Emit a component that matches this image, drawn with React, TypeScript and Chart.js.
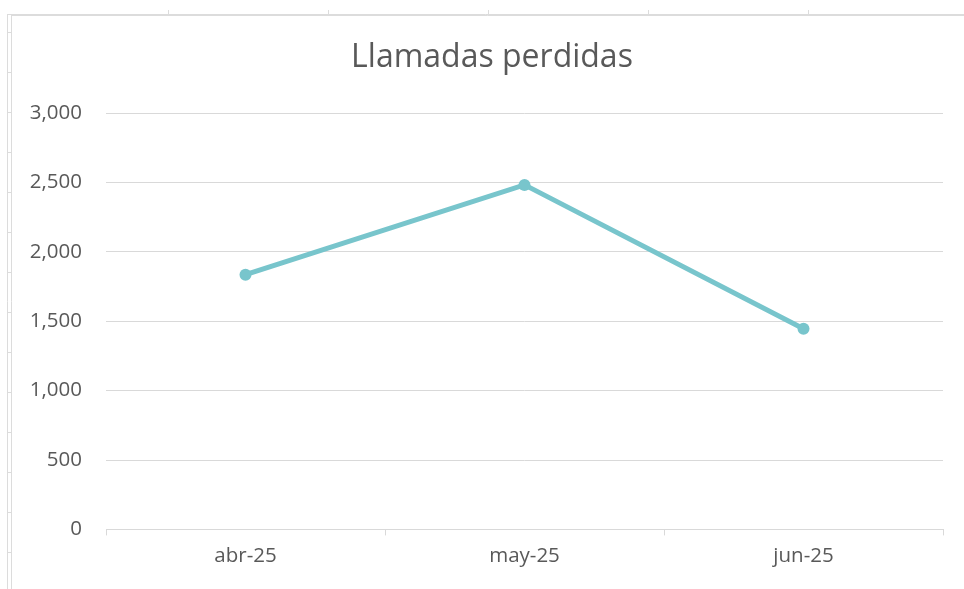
import React, { useEffect, useRef } from "react";
import { Chart, registerables } from "chart.js";

Chart.register(...registerables);

const categories = ["abr-25", "may-25", "jun-25"];
const llamadasPerdidas = [1835, 2482, 1446];
const chartTitle = "Llamadas perdidas";
const yMin = 0;
const yMax = 3000;
const yStep = 500;

const LINE_COLOR = "#78c5cc";
const TEXT_COLOR = "#595959";
const GRID_COLOR = "#d9d9d9";
const FONT = "'Open Sans', 'Noto Sans', sans-serif";

const sheetFrame = {
  id: "sheetFrame",
  beforeDraw(chart: any) {
    const ctx = chart.ctx;
    const w = chart.width;
    const h = chart.height;
    ctx.save();
    ctx.fillStyle = "#ffffff";
    ctx.fillRect(0, 0, w, h);
    ctx.strokeStyle = "#dcdcdc";
    ctx.lineWidth = 1;
    ctx.beginPath();
    ctx.moveTo(7.5, 14);
    ctx.lineTo(7.5, h);
    ctx.moveTo(11.5, 14);
    ctx.lineTo(11.5, h);
    ctx.moveTo(7.5, 14.5);
    ctx.lineTo(w, 14.5);
    ctx.moveTo(11.5, 15.5);
    ctx.lineTo(w, 15.5);
    for (let x = 168; x < w; x += 160) {
      ctx.moveTo(x + 0.5, 10);
      ctx.lineTo(x + 0.5, 14);
    }
    for (let y = 32; y < h; y += 40) {
      ctx.moveTo(7.5, y + 0.5);
      ctx.lineTo(11.5, y + 0.5);
    }
    ctx.stroke();
    ctx.restore();
  },
  afterDraw(chart: any) {
    // chart title, centred on the chart frame (not on the plot area)
    const ctx = chart.ctx;
    ctx.save();
    ctx.fillStyle = TEXT_COLOR;
    ctx.font = `normal 32px ${FONT}`;
    ctx.textAlign = "center";
    ctx.textBaseline = "middle";
    ctx.fillText(chartTitle, 492, 58);
    ctx.restore();
  },
};

export default function App() {
  const ref = useRef<HTMLCanvasElement>(null);

  useEffect(() => {
    document.body.style.margin = "0";
    const canvas = ref.current;
    if (!canvas) return;
    const chart = new Chart(canvas, {
      type: "line",
      data: {
        labels: categories,
        datasets: [
          {
            label: chartTitle,
            data: llamadasPerdidas,
            borderColor: LINE_COLOR,
            backgroundColor: LINE_COLOR,
            borderWidth: 5,
            pointRadius: 6,
            pointBackgroundColor: LINE_COLOR,
            pointBorderColor: LINE_COLOR,
            pointBorderWidth: 0,
            tension: 0,
          },
        ],
      },
      options: {
        animation: false,
        responsive: false,
        devicePixelRatio: 1,
        layout: { padding: { top: 113, left: 0, right: 21, bottom: 13 } },
        plugins: {
          legend: { display: false },
          tooltip: { enabled: false },
          title: { display: false },
        },
        scales: {
          x: {
            offset: true,
            grid: {
              offset: true,
              drawOnChartArea: false,
              drawTicks: true,
              tickLength: 6,
              color: GRID_COLOR,
              lineWidth: 1,
            },
            border: { display: true, color: GRID_COLOR, width: 1 },
            ticks: {
              color: TEXT_COLOR,
              font: { family: FONT, size: 20.5 },
              padding: 8,
              maxRotation: 0,
            },
          },
          y: {
            min: yMin,
            max: yMax,
            afterFit(scale: any) {
              scale.width = 106;
            },
            grid: {
              drawTicks: false,
              color: GRID_COLOR,
              lineWidth: 1,
            },
            border: { display: false },
            ticks: {
              stepSize: yStep,
              color: TEXT_COLOR,
              font: { family: FONT, size: 20.5 },
              padding: 24,
              callback: (v: any) => Number(v).toLocaleString("en-US"),
            },
          },
        },
      },
      plugins: [sheetFrame],
    });
    return () => chart.destroy();
  }, []);

  return <canvas ref={ref} width={964} height={589} style={{ display: "block" }} />;
}
